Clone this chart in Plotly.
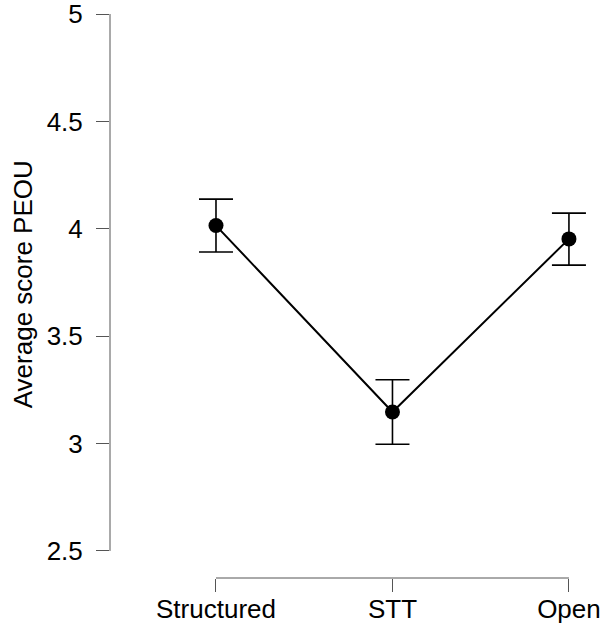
import plotly.graph_objects as go

categories = ["Structured", "STT", "Open"]
means = [4.015, 3.147, 3.953]
err_plus = [0.123, 0.150, 0.120]
err_minus = [0.123, 0.150, 0.122]
y_ticks = [2.5, 3, 3.5, 4, 4.5, 5]
y_ticktext = ["2.5", "3", "3.5", "4", "4.5", "5"]
y_label = "Average score PEOU"

xpos = list(range(len(categories)))
FONT = "Liberation Sans, Arial, sans-serif"
AXC = "#555555"

fig = go.Figure()
fig.add_trace(go.Scatter(
    x=xpos, y=means, mode="lines+markers",
    line=dict(color="black", width=2),
    marker=dict(color="black", size=15),
    error_y=dict(type="data", symmetric=False, array=err_plus, arrayminus=err_minus,
                 color="black", thickness=1.6, width=17),
    showlegend=False, cliponaxis=False,
))

# detached R-style axis lines
fig.add_shape(type="line", xref="paper", yref="y", x0=0, x1=0,
              y0=y_ticks[0], y1=y_ticks[-1], line=dict(color=AXC, width=1))
fig.add_shape(type="line", xref="x", yref="paper", x0=xpos[0], x1=xpos[-1],
              y0=0, y1=0, line=dict(color=AXC, width=1))

# y-axis label
fig.add_annotation(text=y_label, xref="paper", yref="paper",
                   x=-0.176, y=0.513, xanchor="center", yanchor="middle",
                   textangle=-90, showarrow=False, font=dict(size=26))

fig.update_layout(
    width=608, height=627,
    margin=dict(l=110, r=5, t=5, b=49),
    plot_bgcolor="white", paper_bgcolor="white",
    font=dict(family=FONT, size=26, color="black"),
)
fig.update_xaxes(range=[-0.6006, 2.193], tickvals=xpos, ticktext=categories,
                 showgrid=False, zeroline=False, showline=False, automargin=False,
                 ticks="outside", ticklen=13, tickcolor=AXC, tickwidth=1,
                 tickfont=dict(size=26), ticklabelstandoff=-5,
                 ticklabeloverflow="allow")
fig.update_yaxes(range=[2.374, 5.042], tickvals=y_ticks, ticktext=y_ticktext,
                 showgrid=False, zeroline=False, showline=False, automargin=False,
                 ticks="outside", ticklen=13, tickcolor=AXC, tickwidth=1,
                 tickfont=dict(size=26), ticklabelstandoff=8,
                 ticklabeloverflow="allow")

fig.write_html("out.html")
